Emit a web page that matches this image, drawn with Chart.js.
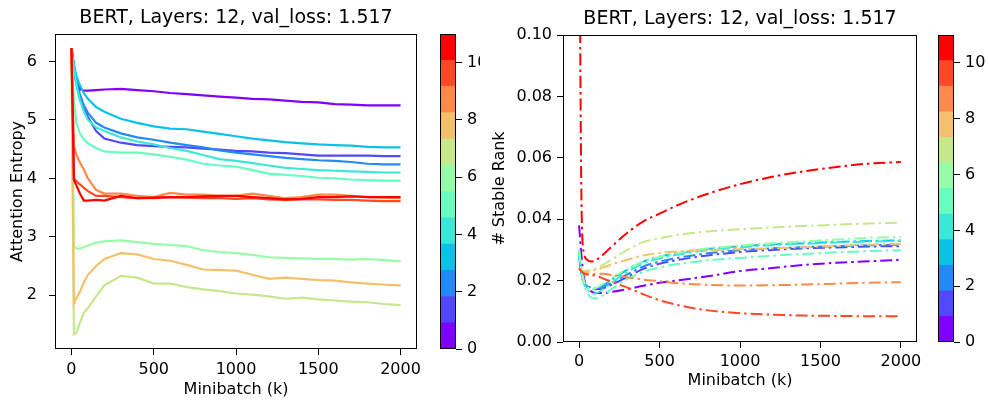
<!DOCTYPE html>
<html>
<head>
<meta charset="utf-8">
<script src="https://cdn.jsdelivr.net/npm/chart.js@4.4.0/dist/chart.umd.min.js"></script>
<style>
    body { margin: 0; background: #fff; width: 989px; height: 402px; position: relative; overflow: hidden; }
    canvas { position: absolute; top: 0; }
    #entropy { left: 0; }
    #entropy-bar { left: 430px; }
    #rank { left: 480px; background: #fff; }
    #rank-bar { left: 928px; }
</style>
</head>
<body>
<canvas id="entropy" width="480" height="402"></canvas>
<canvas id="entropy-bar" width="50" height="402"></canvas>
<canvas id="rank" width="448" height="402"></canvas>
<canvas id="rank-bar" width="61" height="402"></canvas>
<script>
// ===== DATA =====
const TITLE = 'BERT, Layers: 12, val_loss: 1.517';
const layerColors = ['#8000ff', '#5148fc', '#238af5', '#0cc1e8', '#3ae8d7', '#68fcc1',
                     '#97fca7', '#c5e88a', '#f3c16a', '#ff8a48', '#ff4824', '#ff0000'];
const colorbarEdges = [0, 0.917, 1.833, 2.75, 3.667, 4.583, 5.5, 6.417, 7.333, 8.25, 9.167, 10.083, 11];
const colorbarTicks = [0, 2, 4, 6, 8, 10];
const minibatchTicks = [0, 500, 1000, 1500, 2000];
const entropyTicks = [2, 3, 4, 5, 6];
const rankTicks = [0, 0.02, 0.04, 0.06, 0.08, 0.10];

// attention entropy, one array per layer
const entropyMinibatch = [0, 15, 30, 50, 75, 100, 150, 200, 300, 400, 500, 600, 700, 800, 900, 1000, 1100, 1200, 1300, 1400, 1500, 1600, 1700, 1800, 1900, 2000];
const entropyL0 = [6.23, 5.92, 5.66, 5.53, 5.50, 5.50, 5.51, 5.52, 5.53, 5.51, 5.49, 5.46, 5.44, 5.42, 5.40, 5.38, 5.36, 5.35, 5.33, 5.31, 5.30, 5.27, 5.26, 5.25, 5.25, 5.25];
const entropyL1 = [6.23, 5.90, 5.62, 5.38, 5.18, 5.05, 4.81, 4.68, 4.61, 4.57, 4.55, 4.54, 4.53, 4.51, 4.49, 4.47, 4.46, 4.44, 4.43, 4.41, 4.39, 4.39, 4.39, 4.39, 4.38, 4.38];
const entropyL2 = [6.23, 5.92, 5.68, 5.45, 5.25, 5.12, 4.95, 4.87, 4.77, 4.70, 4.66, 4.61, 4.57, 4.53, 4.48, 4.44, 4.41, 4.38, 4.35, 4.33, 4.31, 4.30, 4.28, 4.25, 4.24, 4.24];
const entropyL3 = [6.23, 5.95, 5.75, 5.60, 5.46, 5.36, 5.22, 5.14, 5.02, 4.95, 4.89, 4.85, 4.84, 4.80, 4.76, 4.72, 4.68, 4.65, 4.62, 4.60, 4.58, 4.57, 4.56, 4.54, 4.53, 4.53];
const entropyL4 = [6.23, 5.90, 5.60, 5.35, 5.15, 5.00, 4.87, 4.81, 4.70, 4.63, 4.58, 4.52, 4.47, 4.40, 4.33, 4.30, 4.26, 4.22, 4.18, 4.16, 4.14, 4.13, 4.12, 4.11, 4.10, 4.10];
const entropyL5 = [6.23, 5.30, 4.95, 4.78, 4.67, 4.60, 4.52, 4.46, 4.44, 4.44, 4.41, 4.37, 4.32, 4.25, 4.22, 4.20, 4.14, 4.08, 4.06, 4.04, 4.01, 4.00, 3.98, 3.97, 3.96, 3.96];
const entropyL6 = [6.23, 2.85, 2.80, 2.80, 2.82, 2.85, 2.90, 2.92, 2.94, 2.91, 2.88, 2.86, 2.84, 2.77, 2.74, 2.72, 2.69, 2.65, 2.64, 2.63, 2.62, 2.62, 2.61, 2.62, 2.60, 2.58];
const entropyL7 = [6.23, 1.33, 1.36, 1.52, 1.70, 1.78, 1.98, 2.17, 2.33, 2.30, 2.20, 2.20, 2.14, 2.10, 2.07, 2.03, 2.01, 1.98, 1.94, 1.96, 1.93, 1.91, 1.89, 1.88, 1.85, 1.83];
const entropyL8 = [6.23, 1.85, 1.95, 2.05, 2.22, 2.35, 2.50, 2.62, 2.72, 2.70, 2.62, 2.59, 2.52, 2.44, 2.43, 2.42, 2.35, 2.28, 2.30, 2.28, 2.26, 2.25, 2.22, 2.20, 2.18, 2.17];
const entropyL9 = [6.23, 4.55, 4.40, 4.28, 4.15, 4.00, 3.80, 3.74, 3.74, 3.70, 3.68, 3.75, 3.72, 3.72, 3.70, 3.70, 3.74, 3.70, 3.66, 3.68, 3.72, 3.72, 3.70, 3.68, 3.67, 3.66];
const entropyL10 = [6.23, 4.00, 3.95, 3.90, 3.84, 3.78, 3.70, 3.70, 3.68, 3.66, 3.66, 3.68, 3.67, 3.66, 3.66, 3.65, 3.66, 3.64, 3.63, 3.64, 3.64, 3.63, 3.63, 3.62, 3.61, 3.61];
const entropyL11 = [6.23, 3.97, 3.88, 3.75, 3.62, 3.62, 3.63, 3.62, 3.70, 3.66, 3.67, 3.68, 3.68, 3.69, 3.70, 3.70, 3.68, 3.66, 3.64, 3.65, 3.68, 3.68, 3.69, 3.68, 3.68, 3.68];

// stable rank, one array per layer
const rankMinibatch = [0, 15, 30, 50, 75, 100, 150, 200, 300, 400, 500, 600, 800, 1000, 1200, 1400, 1600, 1800, 2000];
const rankL0 = [0.038, 0.028, 0.021, 0.018, 0.0165, 0.016, 0.016, 0.0163, 0.0172, 0.0183, 0.0193, 0.0200, 0.0214, 0.0231, 0.0241, 0.0251, 0.0258, 0.0263, 0.0268];
const rankL1 = [0.030, 0.023, 0.020, 0.0185, 0.0176, 0.0172, 0.0175, 0.0186, 0.0212, 0.0238, 0.0255, 0.0266, 0.0282, 0.0293, 0.0300, 0.0305, 0.0308, 0.0311, 0.0312];
const rankL2 = [0.028, 0.022, 0.0195, 0.0182, 0.0175, 0.0174, 0.0180, 0.0192, 0.0220, 0.0246, 0.0262, 0.0273, 0.0289, 0.0299, 0.0305, 0.0309, 0.0312, 0.0315, 0.0317];
const rankL3 = [0.028, 0.022, 0.0195, 0.018, 0.0172, 0.0172, 0.0185, 0.0202, 0.0236, 0.0262, 0.0278, 0.0288, 0.0303, 0.0312, 0.0318, 0.0322, 0.0326, 0.0329, 0.0331];
const rankL4 = [0.029, 0.022, 0.019, 0.0172, 0.016, 0.0158, 0.0172, 0.0192, 0.0228, 0.0256, 0.0272, 0.0283, 0.0299, 0.0308, 0.0315, 0.0320, 0.0324, 0.0327, 0.0329];
const rankL5 = [0.030, 0.023, 0.019, 0.016, 0.0145, 0.0142, 0.0152, 0.0172, 0.0205, 0.0228, 0.0243, 0.0253, 0.0266, 0.0274, 0.0281, 0.0287, 0.0292, 0.0296, 0.0299];
const rankL6 = [0.030, 0.024, 0.020, 0.018, 0.0172, 0.0175, 0.019, 0.0208, 0.0238, 0.0262, 0.0278, 0.0289, 0.0305, 0.0314, 0.0322, 0.0328, 0.0334, 0.0339, 0.0342];
const rankL7 = [0.024, 0.0235, 0.0232, 0.0232, 0.0234, 0.0238, 0.0252, 0.0268, 0.0300, 0.0326, 0.0338, 0.0348, 0.0360, 0.0367, 0.0373, 0.0378, 0.0382, 0.0386, 0.0389];
const rankL8 = [0.024, 0.023, 0.0228, 0.0228, 0.023, 0.0235, 0.0243, 0.0252, 0.0268, 0.0282, 0.0290, 0.0295, 0.0299, 0.0302, 0.0305, 0.0309, 0.0313, 0.0317, 0.0320];
const rankL9 = [0.024, 0.023, 0.0225, 0.0222, 0.022, 0.0222, 0.0222, 0.0218, 0.0211, 0.0203, 0.0198, 0.0192, 0.0186, 0.0184, 0.0185, 0.0187, 0.0190, 0.0193, 0.0195];
const rankL10 = [0.024, 0.023, 0.0222, 0.022, 0.0218, 0.0216, 0.0207, 0.0196, 0.0177, 0.0155, 0.0136, 0.0122, 0.0103, 0.0094, 0.0089, 0.0086, 0.0085, 0.0084, 0.0084];
const rankL11 = [0.16, 0.045, 0.029, 0.0268, 0.0262, 0.0265, 0.0285, 0.031, 0.0356, 0.0393, 0.0418, 0.0443, 0.0483, 0.0514, 0.0538, 0.0556, 0.0570, 0.0581, 0.0586];

const entropyLayers = [entropyL0, entropyL1, entropyL2, entropyL3, entropyL4, entropyL5,
                       entropyL6, entropyL7, entropyL8, entropyL9, entropyL10, entropyL11];
const rankLayers = [rankL0, rankL1, rankL2, rankL3, rankL4, rankL5,
                    rankL6, rankL7, rankL8, rankL9, rankL10, rankL11];

// ===== STYLE =====
const FONT = 'DejaVu Sans';
Chart.defaults.font.family = FONT;
Chart.defaults.color = '#000';

// matplotlib-style box round the plot area
const framePlugin = {
    id: 'frame',
    afterDraw(chart) {
        const { ctx, chartArea: a } = chart;
        ctx.save();
        ctx.strokeStyle = '#000';
        ctx.lineWidth = 1;
        const l = Math.round(a.left) + 0.5, t = Math.round(a.top) + 0.5;
        ctx.strokeRect(l, t, Math.round(a.right) - Math.round(a.left) - 1, Math.round(a.bottom) - Math.round(a.top) - 1);
        ctx.restore();
    }
};

function tickGrid() {
    return { display: true, drawOnChartArea: false, drawTicks: true, tickLength: 6, tickColor: '#000', lineWidth: 1 };
}

function lineDatasets(xs, layers, dashed) {
    return layers.map((values, i) => ({
        data: xs.map((x, j) => ({ x: x, y: values[j] })),
        borderColor: layerColors[i],
        borderWidth: dashed ? 2 : 2.2,
        borderDash: dashed ? [12, 4, 2.5, 4] : [],
        pointRadius: 0,
        fill: false,
        tension: 0,
        cubicInterpolationMode: dashed ? 'monotone' : 'default',
        order: layers.length - i   // later layers on top, like matplotlib
    }));
}

function lineChart(id, xs, layers, opts) {
    return new Chart(document.getElementById(id), {
        type: 'line',
        data: { datasets: lineDatasets(xs, layers, opts.dashed) },
        options: {
            responsive: false,
            animation: false,
            layout: { padding: { left: 0, right: opts.padRight, top: 0, bottom: 0 } },
            plugins: {
                legend: { display: false },
                tooltip: { enabled: false },
                title: {
                    display: true, text: TITLE, fullSize: false,
                    font: { family: FONT, size: 19, weight: 'normal' }, color: '#000',
                    padding: { top: opts.titleTop, bottom: opts.titleBottom }
                }
            },
            scales: {
                x: {
                    type: 'linear', min: -100, max: 2100,
                    afterBuildTicks: s => { s.ticks = minibatchTicks.map(v => ({ value: v })); },
                    afterFit: s => { s.height = opts.xHeight; },
                    ticks: { font: { size: 16 }, color: '#000', padding: opts.xTickPad, maxRotation: 0, callback: v => String(v) },
                    grid: tickGrid(),
                    border: { display: false },
                    title: { display: true, text: 'Minibatch (k)', font: { size: 16 }, color: '#000', padding: { top: 0, bottom: opts.xTitlePad } }
                },
                y: {
                    type: 'linear', min: opts.yMin, max: opts.yMax,
                    afterBuildTicks: s => { s.ticks = opts.yTicks.map(v => ({ value: v })); },
                    afterFit: s => { s.width = opts.yWidth; },
                    ticks: { font: { size: 16 }, color: '#000', padding: opts.yTickPad, callback: opts.yFormat },
                    grid: tickGrid(),
                    border: { display: false },
                    title: { display: true, text: opts.yLabel, font: { size: 16 }, color: '#000', padding: { top: opts.yTitlePad, bottom: 0 } }
                }
            }
        },
        plugins: [framePlugin]
    });
}

function colorbar(id, top, bottom, axisWidth) {
    return new Chart(document.getElementById(id), {
        type: 'bar',
        data: {
            labels: ['layer'],
            datasets: layerColors.map((c, i) => ({
                data: [[colorbarEdges[i], colorbarEdges[i + 1]]],
                backgroundColor: c,
                borderWidth: 0,
                grouped: false,
                barPercentage: 1,
                categoryPercentage: 1
            }))
        },
        options: {
            responsive: false,
            animation: false,
            layout: { padding: { left: 10, right: 0, top: top, bottom: bottom } },
            plugins: { legend: { display: false }, tooltip: { enabled: false } },
            scales: {
                x: { display: false },
                y: {
                    position: 'right', min: 0, max: 11,
                    afterBuildTicks: s => { s.ticks = colorbarTicks.map(v => ({ value: v })); },
                    afterFit: s => { s.width = axisWidth; },
                    ticks: { font: { size: 16 }, color: '#000', padding: 5 },
                    grid: tickGrid(),
                    border: { display: false }
                }
            }
        },
        plugins: [framePlugin]
    });
}

// ===== CHARTS =====
lineChart('entropy', entropyMinibatch, entropyLayers, {
    dashed: false, padRight: 63, titleTop: 7, titleBottom: 4.2,
    xHeight: 53, xTickPad: 5, xTitlePad: 3,
    yMin: 1.08, yMax: 6.47, yTicks: entropyTicks, yWidth: 55, yTickPad: 12, yTitlePad: 8,
    yLabel: 'Attention Entropy', yFormat: v => String(v)
});
colorbar('entropy-bar', 34, 53, 24);

lineChart('rank', rankMinibatch, rankLayers, {
    dashed: true, padRight: 448 - 437, titleTop: 8, titleBottom: 4.2,
    xHeight: 60, xTickPad: 4, xTitlePad: 11.4,
    yMin: 0, yMax: 0.1, yTicks: rankTicks, yWidth: 83, yTickPad: 5, yTitlePad: 10.4,
    yLabel: '# Stable Rank', yFormat: v => v.toFixed(2)
});
colorbar('rank-bar', 35, 60, 35);
</script>
</body>
</html>
